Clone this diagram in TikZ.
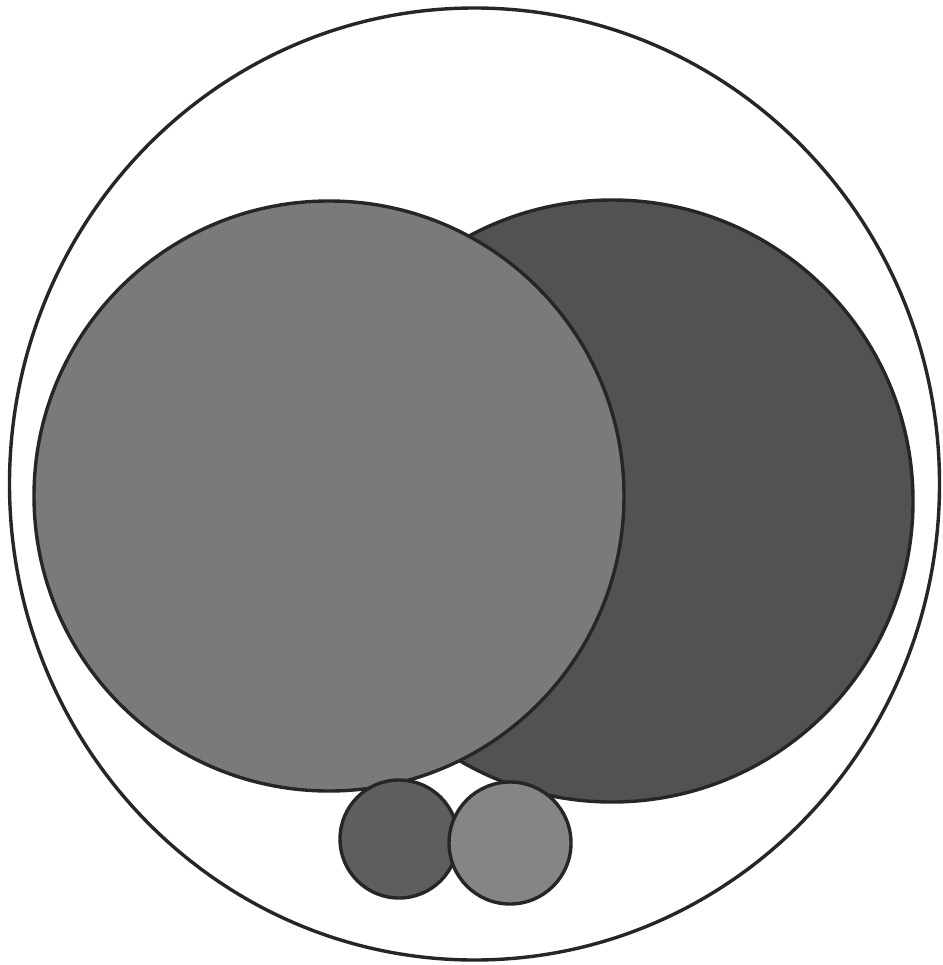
\documentclass[tikz,border=0pt]{standalone}
\begin{document}
\begin{tikzpicture}[x=1pt,y=-1pt,
  ring/.style={draw=black!85, line width=3.4pt},
  disc/.style={draw=black!85, line width=3.4pt}]
\useasboundingbox (0,0) rectangle (942,965);
\fill[white] (0,0) rectangle (942,965);
% outer circle
\draw[ring] (474.5,484) ellipse [x radius=465, y radius=476];
% right large circle (dark)
\draw[disc, fill=black!68] (612,501) circle [radius=301];
% left large circle (lighter)
\draw[disc, fill=black!52] (329,496) circle [radius=295];
% small circles
\draw[disc, fill=black!63] (399,839) circle [radius=59];
\draw[disc, fill=black!48] (510,843) circle [radius=61];
\end{tikzpicture}
\end{document}
